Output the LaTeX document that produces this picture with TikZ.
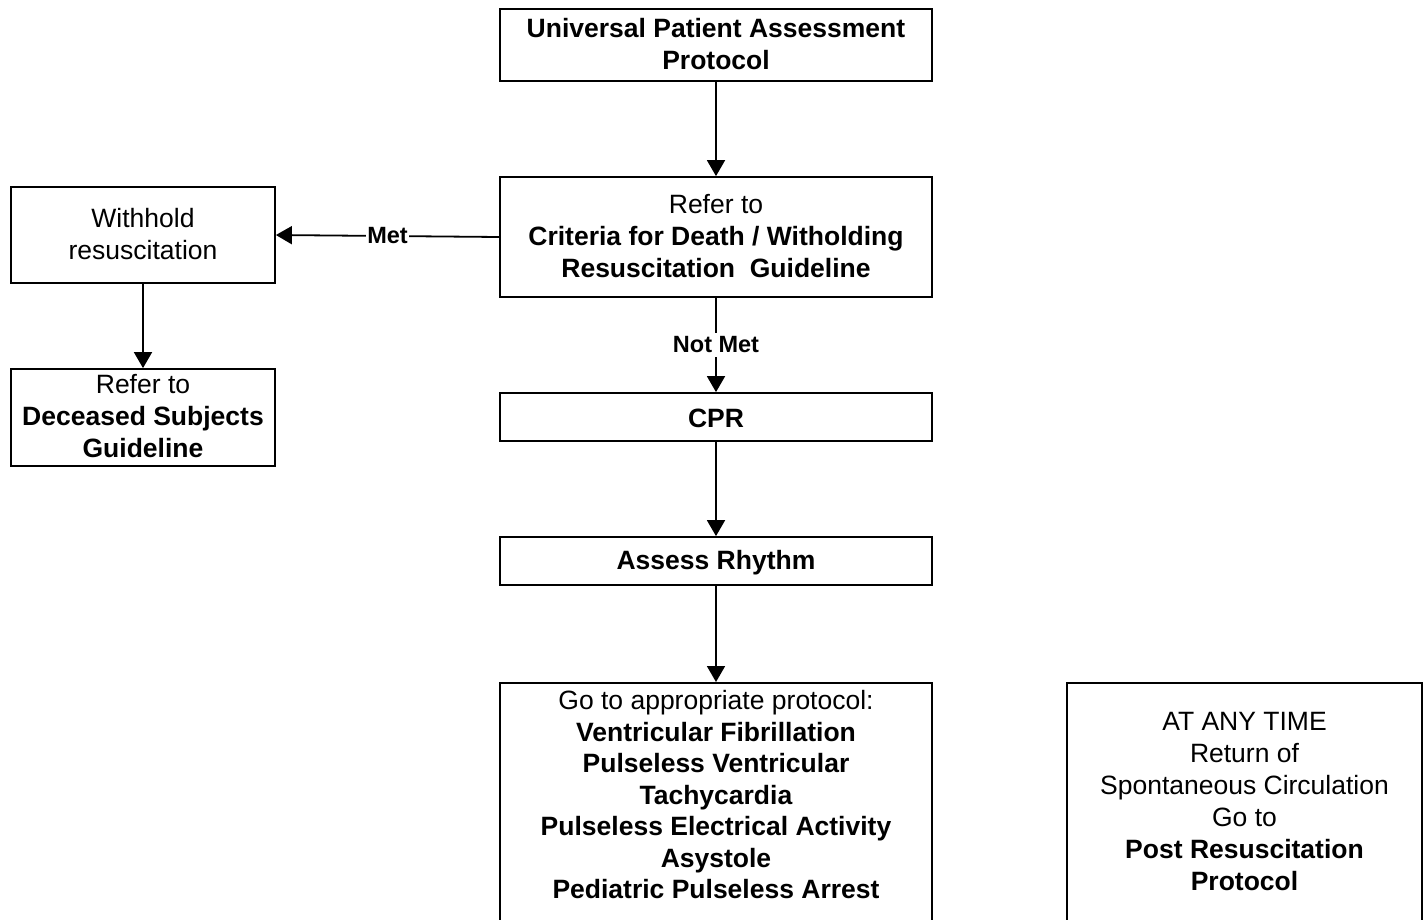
\documentclass[tikz,border=0pt]{standalone}
\usepackage{fontspec}
\setmainfont{Liberation Sans}
\usetikzlibrary{arrows.meta}

\newcommand\bxfont{\fontsize{26.5}{32}\selectfont}
\newcommand\listfont{\fontsize{26.5}{31.5}\selectfont}
\newcommand\lblfont{\fontsize{23.5}{28}\selectfont\bfseries}
\newcommand\topstrut{\rule{0pt}{23pt}}
\newcommand\botstrut{\rule[-3pt]{0pt}{3pt}}
\newcommand\longtail{\rule[-60pt]{0pt}{60pt}}

\tikzset{
  box/.style={draw, line width=1.8pt, align=center, font=\bxfont, inner sep=0pt,
    execute at begin node=\topstrut, execute at end node=\botstrut},
  openbox/.style={draw, line width=1.8pt, align=center, font=\bxfont, inner xsep=0pt,
    inner ysep=0pt, anchor=north},
  wide/.style={minimum width=432pt},
  narrow/.style={minimum width=264pt},
  flow/.style={line width=1.8pt, -{Triangle[width=18pt,length=16pt]}},
  lbl/.style={font=\lblfont, fill=white, inner xsep=1pt, inner ysep=4pt},
}

\begin{document}
\begin{tikzpicture}[x=1pt, y=-1pt]
  \useasboundingbox (0,0) rectangle (1427,919);
  \clip (0,0) rectangle (1427,919);

  % main column
  \node[box, wide, minimum height=72pt] (upa) at (716,45)
    {\textbf{Universal Patient Assessment}\\\textbf{Protocol}};
  \node[box, wide, minimum height=120pt] (crit) at (716,237)
    {Refer to\\\textbf{Criteria for Death / Witholding}\\\textbf{Resuscitation\ \ Guideline}};
  \node[box, wide, minimum height=48pt] (cpr) at (716,417) {\textbf{CPR}};
  \node[box, wide, minimum height=48pt] (rhythm) at (716,561) {\textbf{Assess Rhythm}};
  \node[openbox, wide, font=\listfont] (goto) at (716,682)
    {\rule{0pt}{27pt}Go to appropriate protocol:\\
     \textbf{Ventricular Fibrillation}\\
     \textbf{Pulseless Ventricular}\\
     \textbf{Tachycardia}\\
     \textbf{Pulseless Electrical Activity}\\
     \textbf{Asystole}\\
     \textbf{Pediatric Pulseless Arrest}\longtail};

  % left column
  \node[box, narrow, minimum height=96pt] (withhold) at (143,235)
    {Withhold\\resuscitation};
  \node[box, narrow, minimum height=97pt] (deceased) at (143,417.5)
    {Refer to\\\textbf{Deceased Subjects}\\\textbf{Guideline}};

  % side note
  \node[openbox, minimum width=355pt] (rosc) at (1244.5,682)
    {\rule{0pt}{48pt}AT ANY TIME\\
     Return of\\
     Spontaneous Circulation\\
     Go to\\
     \textbf{Post Resuscitation}\\
     \textbf{Protocol}\longtail};

  % connectors
  \draw[flow] (upa) -- (crit);
  \draw[flow] (crit) -- node[lbl] {Not Met} (cpr);
  \draw[flow] (cpr) -- (rhythm);
  \draw[flow] (rhythm) -- (goto);
  \draw[flow] (crit.west) -- node[lbl, inner ysep=3pt] {Met} (withhold.east);
  \draw[flow] (withhold) -- (deceased);
\end{tikzpicture}
\end{document}
